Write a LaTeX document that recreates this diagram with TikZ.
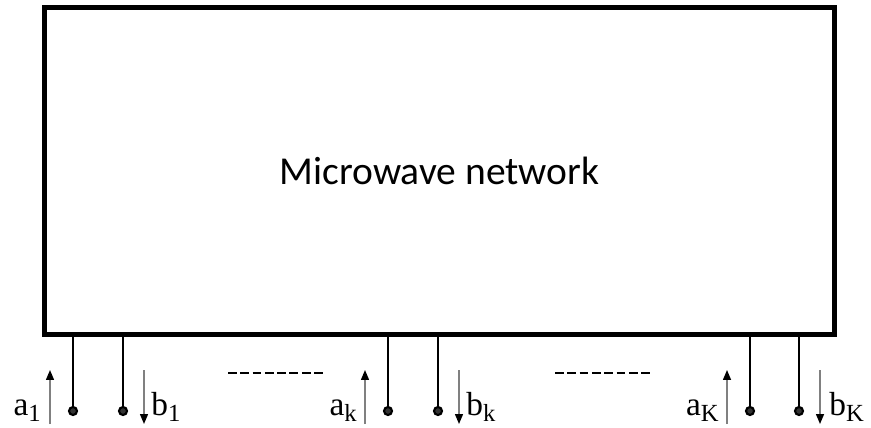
\documentclass[tikz,border=0pt]{standalone}
\usepackage{fontspec}
\setmainfont{Liberation Serif}
\newfontfamily\netfont{Carlito}
\usetikzlibrary{arrows.meta}
\newcommand{\portlbl}[2]{#1\raisebox{-0.45ex}{\fontsize{14}{14}\selectfont #2}}

\begin{document}
\begin{tikzpicture}[x=0.02cm,y=-0.02cm,
        terminal/.style={circle,draw,fill=black!80,line width=1.2pt,inner sep=0pt,minimum size=0.16cm},
        lead/.style={line width=1.5pt},
        wave/.style={draw=gray,line width=0.8pt,-{Triangle[black,length=0.2cm,width=0.16cm]}},
        lbl/.style={font=\fontsize{19}{19}\selectfont,inner sep=0pt},
        gap/.style={line width=1.1pt,dash pattern=on 5pt off 2pt}]
        \useasboundingbox (0,0) rectangle (871,428);

        \node[draw,line width=2.8pt,minimum width=15.8cm,minimum height=6.54cm,inner sep=0pt,
              font=\netfont\fontsize{22.5}{22.5}\selectfont] (net) at (439.5,171) {Microwave network};

        % port 1
        \node[terminal] (t1a) at (73,411) {};
        \node[terminal] (t1b) at (123,411) {};
        \draw[lead] (net.south -| t1a) -- (t1a);
        \draw[lead] (net.south -| t1b) -- (t1b);
        \coordinate (w1a) at (50,424); \coordinate (w1b) at (144,370);
        \draw[wave] (w1a) -- (w1a |- w1b);
        \draw[wave] (w1b) -- (w1b |- w1a);
        \node[lbl,anchor=base east] (a1) at (41,415) {\portlbl{a}{1}};
        \node[lbl,anchor=base west] (b1) at (151,415) {\portlbl{b}{1}};

        \draw[gap] (228,373) -- (325,373);

        % port k
        \node[terminal] (tka) at (388,411) {};
        \node[terminal] (tkb) at (438,411) {};
        \draw[lead] (net.south -| tka) -- (tka);
        \draw[lead] (net.south -| tkb) -- (tkb);
        \coordinate (wka) at (365,424); \coordinate (wkb) at (459,370);
        \draw[wave] (wka) -- (wka |- wkb);
        \draw[wave] (wkb) -- (wkb |- wka);
        \node[lbl,anchor=base east] (ak) at (357,415) {\portlbl{a}{k}};
        \node[lbl,anchor=base west] (bk) at (466,415) {\portlbl{b}{k}};

        \draw[gap] (555,373) -- (652,373);

        % port K
        \node[terminal] (tKa) at (750,411) {};
        \node[terminal] (tKb) at (799,411) {};
        \draw[lead] (net.south -| tKa) -- (tKa);
        \draw[lead] (net.south -| tKb) -- (tKb);
        \coordinate (wKa) at (727,424); \coordinate (wKb) at (820,370);
        \draw[wave] (wKa) -- (wKa |- wKb);
        \draw[wave] (wKb) -- (wKb |- wKa);
        \node[lbl,anchor=base east] (aK) at (719,415) {\portlbl{a}{K}};
        \node[lbl,anchor=base west] (bK) at (829,415) {\portlbl{b}{K}};
\end{tikzpicture}
\end{document}
